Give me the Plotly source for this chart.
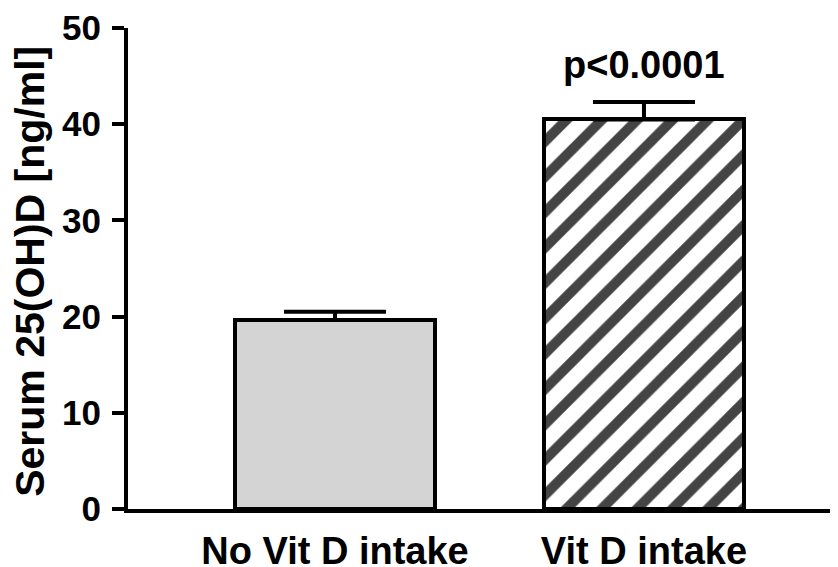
import plotly.graph_objects as go

categories = ["No Vit D intake", "Vit D intake"]
means = [19.65, 40.5]
errors = [0.85, 1.8]
fill_colors = ["#d4d4d4", "#ffffff"]
pattern_shapes = ["", "/"]
y_ticks = [0, 10, 20, 30, 40, 50]
p_label = "p<0.0001"
y_title = "Serum 25(OH)D [ng/ml]"

FONT = "Liberation Sans, Arial, Helvetica, sans-serif"

fig = go.Figure()
fig.add_trace(go.Bar(
    x=[0, 1],
    y=means,
    width=0.65,
    marker=dict(
        color=fill_colors,
        line=dict(color="black", width=4),
        pattern=dict(shape=pattern_shapes, fgcolor="black",
                     fgopacity=1, size=25, solidity=0.4, fillmode="overlay"),
    ),
    error_y=dict(type="data", array=errors, symmetric=False, arrayminus=[0, 0],
                 color="black", thickness=4, width=51),
    showlegend=False,
))

fig.add_annotation(x=1, y=46.2, xref="x", yref="y", text=p_label, showarrow=False,
                   font=dict(family=FONT, size=38, color="black", weight="bold"),
                   xanchor="center", yanchor="middle")

fig.add_annotation(x=0, y=0.493, xref="paper", yref="paper", text=y_title, showarrow=False,
                   textangle=-90, xshift=-98,
                   font=dict(family=FONT, size=41, color="black", weight="bold"),
                   xanchor="center", yanchor="middle")

fig.update_layout(
    width=830, height=559,
    margin=dict(l=120, r=0, t=20, b=58, autoexpand=False),
    paper_bgcolor="white", plot_bgcolor="white",
    font=dict(family=FONT, color="black", weight="bold"),
    bargap=0,
)
fig.update_xaxes(
    range=[-0.670, 1.628], automargin=False,
    tickvals=[0, 1], ticktext=categories,
    showline=True, linecolor="black", linewidth=4,
    ticks="", showgrid=False, zeroline=False,
    tickfont=dict(family=FONT, size=38, color="black", weight="bold"),
    ticklabelstandoff=5,
)
fig.update_yaxes(
    range=[0, 50], tickvals=y_ticks, automargin=False,
    showline=True, linecolor="black", linewidth=4,
    ticks="outside", ticklen=12, tickwidth=4, tickcolor="black",
    showgrid=False, zeroline=False,
    tickfont=dict(family=FONT, size=35, color="black", weight="bold"),
    ticklabelstandoff=4,
)

fig.write_html("out.html")
